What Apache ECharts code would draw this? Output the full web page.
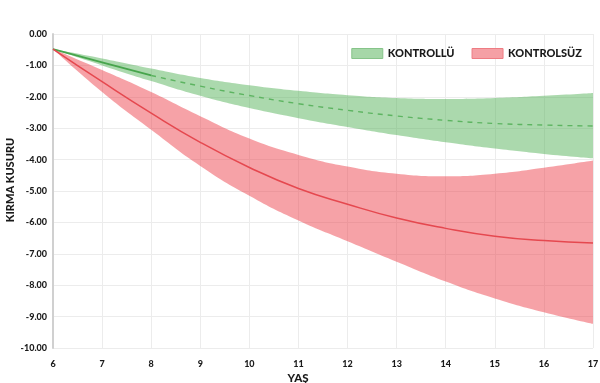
<!DOCTYPE html>
<html>
<head>
<meta charset="utf-8">
<script src="https://cdn.jsdelivr.net/npm/echarts@6/dist/echarts.min.js"></script>
<style>html,body{margin:0;padding:0;background:#fff}#c{width:600px;height:383px}</style>
</head>
<body>
<div id="c"></div>
<script>
const ages = [6, 7, 8, 9, 10, 11, 12, 13, 14, 15, 16, 17];
const yTicks = [0, -1, -2, -3, -4, -5, -6, -7, -8, -9, -10];
const xTitle = 'YAŞ';
const yTitle = 'KIRMA KUSURU';

// KONTROLLÜ (green)
const kontrolluMeanSolid = [-0.48, -0.90, -1.32];               // ages 6–8
const kontrolluMeanDashed = [-1.32, -1.66, -1.96, -2.22, -2.43, -2.61, -2.75, -2.85, -2.90, -2.93]; // ages 8–17
const kontrolluUpper = [-0.48, -0.78, -1.10, -1.40, -1.63, -1.81, -1.95, -2.04, -2.07, -2.04, -1.97, -1.88];
const kontrolluLower = [-0.48, -1.00, -1.50, -1.97, -2.36, -2.68, -2.96, -3.22, -3.45, -3.65, -3.82, -3.96];

// KONTROLSÜZ (red)
const kontrolsuzMean = [-0.48, -1.52, -2.52, -3.45, -4.25, -4.92, -5.42, -5.86, -6.19, -6.44, -6.58, -6.66];
const kontrolsuzUpper = [-0.48, -1.15, -1.85, -2.62, -3.33, -3.85, -4.22, -4.45, -4.53, -4.45, -4.26, -4.03];
const kontrolsuzLower = [-0.48, -1.85, -3.05, -4.20, -5.15, -5.94, -6.60, -7.25, -7.88, -8.42, -8.86, -9.23];

const diff = (up, lo) => up.map((v, i) => +(v - lo[i]).toFixed(3));
const solidData = ages.map((a, i) => i < kontrolluMeanSolid.length ? kontrolluMeanSolid[i] : null);
const dashedOffset = ages.length - kontrolluMeanDashed.length;
const dashedData = ages.map((a, i) => i >= dashedOffset ? kontrolluMeanDashed[i - dashedOffset] : null);

const FONT = 'Lato';
const chart = echarts.init(document.getElementById('c'), null, {renderer: 'canvas'});
chart.setOption({
  animation: false,
  backgroundColor: '#fff',
  grid: {left: 53, right: 7, top: 34, bottom: 35, containLabel: false, outerBoundsMode: 'none'},
  graphic: [
    {type: 'text', x: 298, y: 378, z: 10,
      style: {text: xTitle, align: 'center', verticalAlign: 'middle', fill: '#1a1a1a',
        fontFamily: FONT, fontWeight: 900, fontSize: 11.5}},
    {type: 'text', x: 10, y: 180, rotation: Math.PI / 2, z: 10,
      style: {text: yTitle, align: 'center', verticalAlign: 'middle', fill: '#1a1a1a',
        fontFamily: FONT, fontWeight: 900, fontSize: 11}}
  ],
  legend: {
    top: 43, right: 13, itemWidth: 31, itemHeight: 10, itemGap: 17,
    textStyle: {fontFamily: FONT, fontWeight: 900, fontSize: 11, color: '#1a1a1a'},
    data: [
      {name: 'KONTROLLÜ', icon: 'rect', itemStyle: {color: '#a6d7a8', borderColor: '#86c489', borderWidth: 1}},
      {name: 'KONTROLSÜZ', icon: 'rect', itemStyle: {color: '#f5a0a5', borderColor: '#ee7c83', borderWidth: 1}}
    ]
  },
  xAxis: {
    type: 'category', data: ages.map(String), boundaryGap: false,
    axisLine: {show: false},
    axisTick: {show: false},
    axisLabel: {interval: 0, fontFamily: FONT, fontWeight: 900, fontSize: 9, color: '#1a1a1a', margin: 12},
    splitLine: {show: true, interval: 0, lineStyle: {color: '#ececec', width: 1}}
  },
  yAxis: {
    type: 'value', min: -10, max: 0, interval: 1,
    axisLine: {show: true, onZero: false, lineStyle: {color: '#d0d0d0', width: 2}},
    axisTick: {show: false},
    axisLabel: {fontFamily: FONT, fontWeight: 900, fontSize: 9, color: '#1a1a1a', margin: 6,
      formatter: v => yTicks.includes(v) ? v.toFixed(2) : ''},
    splitLine: {show: true, lineStyle: {color: '#ececec', width: 1}}
  },
  series: [
    {name: 'gLow', type: 'line', stack: 'g', stackStrategy: 'all', smooth: true, symbol: 'none', silent: true,
      lineStyle: {opacity: 0}, data: kontrolluLower, z: 1},
    {name: 'KONTROLLÜ', type: 'line', stack: 'g', stackStrategy: 'all', smooth: true, symbol: 'none', silent: true,
      itemStyle: {color: '#a6d7a8'},
      lineStyle: {opacity: 0}, areaStyle: {color: 'rgba(76,175,80,0.47)', opacity: 1},
      data: diff(kontrolluUpper, kontrolluLower), z: 1},
    {name: 'rLow', type: 'line', stack: 'r', stackStrategy: 'all', smooth: true, symbol: 'none', silent: true,
      lineStyle: {opacity: 0}, data: kontrolsuzLower, z: 2},
    {name: 'KONTROLSÜZ', type: 'line', stack: 'r', stackStrategy: 'all', smooth: true, symbol: 'none', silent: true,
      itemStyle: {color: '#f5a0a5'},
      lineStyle: {opacity: 0}, areaStyle: {color: 'rgba(236,60,72,0.48)', opacity: 1},
      data: diff(kontrolsuzUpper, kontrolsuzLower), z: 2},
    {name: 'gMeanSolid', type: 'line', smooth: true, symbol: 'none',
      lineStyle: {color: '#47a54c', width: 1.8},
      data: solidData, z: 5},
    {name: 'gMeanDashed', type: 'line', smooth: true, symbol: 'none',
      lineStyle: {color: '#5db461', width: 1.4, type: [5, 5]},
      data: dashedData, z: 5},
    {name: 'rMean', type: 'line', smooth: true, symbol: 'none',
      lineStyle: {color: '#e5484f', width: 1.5},
      data: kontrolsuzMean, z: 5}
  ]
});
</script>
</body>
</html>
